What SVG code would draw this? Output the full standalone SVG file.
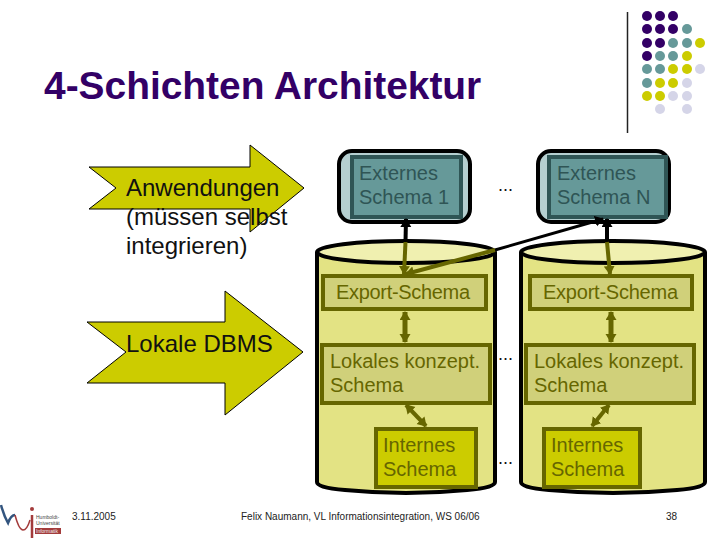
<svg xmlns="http://www.w3.org/2000/svg" width="720" height="540" viewBox="0 0 720 540">
<style>
text{font-family:"Liberation Sans",Arial,sans-serif}
.arrow{fill:#cccc00;stroke:#000;stroke-width:1}
.lbl{font-size:24px;fill:#111}
.cyl{fill:#e3e384;stroke:#000;stroke-width:4}
.top{fill:#f0f0b0;stroke:#000;stroke-width:4}
.b1{fill:#d0d07a;stroke:#666600;stroke-width:4}
.b2{fill:#cccc00;stroke:#666600;stroke-width:4}
.t1{font-size:20px;fill:#666600}
.ext{fill:#b5cfd0;stroke:#000;stroke-width:4}
.exi{fill:#669999;stroke:#2f5555;stroke-width:4}
.t2{font-size:20px;fill:#2f5555}
.foot{font-size:10px;fill:#222}
.dots{font-size:18px;fill:#111}
.k{fill:none;stroke:#000;stroke-width:4}
.d{fill:none;stroke:#000;stroke-width:3}
.o{fill:none;stroke:#666600;stroke-width:4}
.w{stroke-width:5}
.p{fill:#330066}.t{fill:#669999}.y{fill:#cccc00}.l{fill:#d5d5e8}
</style>
<defs>
<marker id="ho" markerUnits="userSpaceOnUse" markerWidth="12" markerHeight="12" refX="8" refY="5.500" orient="auto-start-reverse"><path d="M0 0L9 5.500L0 11z" fill="#666600"/></marker>
<marker id="hk" markerUnits="userSpaceOnUse" markerWidth="12" markerHeight="12" refX="8" refY="5.500" orient="auto-start-reverse"><path d="M0 0L9 5.500L0 11z" fill="#000"/></marker>
</defs>
<g id="deco">
<path d="M627.500 12V133" stroke="#222" stroke-width="1.500"/>
<circle class="p" cx="647" cy="16" r="5"/><circle class="p" cx="660" cy="16" r="5"/><circle class="p" cx="673" cy="16" r="5"/>
<circle class="p" cx="647" cy="29" r="5"/><circle class="p" cx="660" cy="29" r="5"/><circle class="p" cx="673" cy="29" r="5"/><circle class="t" cx="687" cy="29" r="5"/>
<circle class="p" cx="647" cy="43" r="5"/><circle class="p" cx="660" cy="43" r="5"/><circle class="t" cx="673" cy="43" r="5"/><circle class="t" cx="687" cy="43" r="5"/><circle class="y" cx="700" cy="43" r="5"/>
<circle class="p" cx="647" cy="56" r="5"/><circle class="t" cx="660" cy="56" r="5"/><circle class="t" cx="673" cy="56" r="5"/><circle class="y" cx="687" cy="56" r="5"/>
<circle class="t" cx="647" cy="69" r="5"/><circle class="t" cx="660" cy="69" r="5"/><circle class="y" cx="673" cy="69" r="5"/><circle class="y" cx="687" cy="69" r="5"/><circle class="l" cx="700" cy="69" r="5"/>
<circle class="t" cx="647" cy="83" r="5"/><circle class="y" cx="660" cy="83" r="5"/><circle class="y" cx="673" cy="83" r="5"/><circle class="l" cx="687" cy="83" r="5"/>
<circle class="y" cx="647" cy="96" r="5"/><circle class="y" cx="660" cy="96" r="5"/><circle class="l" cx="673" cy="96" r="5"/><circle class="l" cx="687" cy="96" r="5"/>
<circle class="l" cx="660" cy="109" r="5"/><circle class="l" cx="687" cy="109" r="5"/>
</g>
<text x="44" y="99" font-size="38.900" font-weight="700" fill="#330066">4-Schichten Architektur</text>
<g id="anwendungen">
<polygon class="arrow" points="89,167 250,167 250,145 304,188 250,232 250,209 89,209 116,188"/>
<text class="lbl" x="126" y="196">Anwendungen</text><text class="lbl" x="126" y="225">(müssen selbst</text><text class="lbl" x="126" y="254">integrieren)</text>
</g>
<g id="lokale-dbms">
<polygon class="arrow" points="87,322 225,322 225,291 303,352 225,415 225,383 87,383 126,352"/>
<text class="lbl" x="126" y="352">Lokale DBMS</text>
</g>
<g id="cylinder-1">
<path class="cyl" d="M317 252V482Q317 488 345 490Q406 496 467 490Q495 488 495 482V252"/>
<ellipse class="top" cx="406" cy="252" rx="89" ry="11"/>
</g>
<g id="cylinder-n">
<path class="cyl" d="M521 252V482Q521 488 549 490Q613 496 677 490Q705 488 705 482V252"/>
<ellipse class="top" cx="613" cy="252" rx="92" ry="11"/>
</g>
<g id="externes-1">
<rect class="ext" x="339" y="151" width="131" height="71" rx="13"/>
<rect class="exi" x="352" y="157" width="109" height="60"/>
<text class="t2" x="359" y="180">Externes</text><text class="t2" x="359" y="204">Schema 1</text>
</g>
<g id="externes-n">
<rect class="ext" x="538" y="151" width="131" height="71" rx="13"/>
<rect class="exi" x="549" y="157" width="117" height="60"/>
<text class="t2" x="557" y="180">Externes</text><text class="t2" x="557" y="204">Schema N</text>
</g>
<g id="export-1"><rect class="b1" x="323" y="276" width="163" height="33"/><text class="t1" x="336" y="299" textLength="134">Export-Schema</text></g>
<g id="export-n"><rect class="b1" x="530" y="276" width="162" height="33"/><text class="t1" x="543" y="299" textLength="135">Export-Schema</text></g>
<g id="lokal-1"><rect class="b1" x="322" y="345" width="168" height="58"/><text class="t1" x="330" y="368">Lokales konzept.</text><text class="t1" x="330" y="392">Schema</text></g>
<g id="lokal-n"><rect class="b1" x="526" y="345" width="168" height="58"/><text class="t1" x="534" y="368">Lokales konzept.</text><text class="t1" x="534" y="392">Schema</text></g>
<g id="intern-1"><rect class="b2" x="376" y="429" width="100" height="58"/><text class="t1" x="383" y="452">Internes</text><text class="t1" x="383" y="476">Schema</text></g>
<g id="intern-n"><rect class="b2" x="544" y="429" width="96" height="58"/><text class="t1" x="551" y="452">Internes</text><text class="t1" x="551" y="476">Schema</text></g>
<g id="connectors">
<path class="k" d="M406 219L405.500 242" marker-start="url(#hk)"/>
<path class="o" d="M405.500 242L404 274" marker-end="url(#ho)"/>
<path class="d" d="M603 219L495 250" marker-start="url(#hk)"/>
<path class="o" d="M495 250L406 274" marker-end="url(#ho)"/>
<path class="k" d="M607 219L607 242" marker-start="url(#hk)"/>
<path class="o" d="M607 242L610 274" marker-end="url(#ho)"/>
<path class="o w" d="M405 312V342" marker-start="url(#ho)" marker-end="url(#ho)"/>
<path class="o w" d="M611 312V342" marker-start="url(#ho)" marker-end="url(#ho)"/>
<path class="o" d="M406 405L426 426" marker-start="url(#ho)" marker-end="url(#ho)"/>
<path class="o" d="M609 405L592 426" marker-start="url(#ho)" marker-end="url(#ho)"/>
</g>
<text class="dots" x="498" y="191">...</text>
<text class="dots" x="498" y="360">...</text>
<text class="dots" x="498" y="464">...</text>
<g id="logo">
<path d="M1 505Q4 516 8 523Q11 515 15 515" fill="none" stroke="#33557f" stroke-width="2.500"/>
<path d="M15 515Q19 530 23 530Q27 530 30 520" fill="none" stroke="#a33b3b" stroke-width="1.500"/>
<path d="M32 515V538" stroke="#a33b3b" stroke-width="2.500"/>
<circle cx="32" cy="509" r="2" fill="#a33b3b"/>
<rect x="35" y="528" width="26" height="6" fill="#a33b3b"/>
<text x="36" y="519" font-size="5" fill="#444">Humboldt-</text>
<text x="36" y="525" font-size="5" fill="#444">Universität</text>
<text x="36" y="533" font-size="5" fill="#eee">Informatik</text>
</g>
<text class="foot" x="72" y="520">3.11.2005</text>
<text class="foot" x="241" y="520">Felix Naumann, VL Informationsintegration, WS 06/06</text>
<text class="foot" x="666" y="520">38</text>
</svg>
